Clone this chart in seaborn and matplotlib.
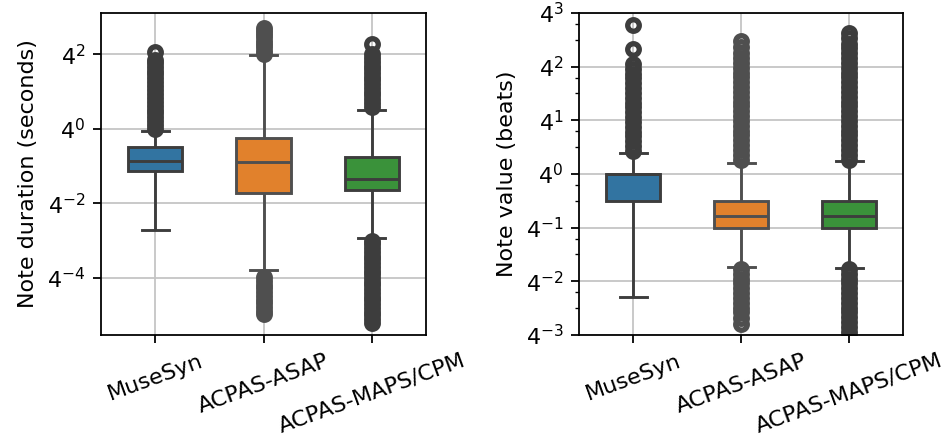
import numpy as np
import matplotlib
matplotlib.use("Agg")
import matplotlib.pyplot as plt
import seaborn as sns
from matplotlib.ticker import NullLocator

datasets = ["MuseSyn", "ACPAS-ASAP", "ACPAS-MAPS/CPM"]
box_colors = ["#3274a1", "#e1812c", "#3a923a"]
line_colors = ["#3d3d3d", "#4f4f4f", "#3d3d3d"]

# All values are exponents of 4 (both axes use a base-4 log scale).
# A "body" lists: lower whisker end, Q1, median, Q3, upper whisker end,
# and body_counts says how many notes take each of those values.
body_counts = [1, 300, 300, 300, 1]

# ---- note duration (seconds) ----
dur_musesyn_body = [-2.70, -1.12, -0.856, -0.48, -0.05]
dur_musesyn_out = [0.00, 0.10, 0.21, 0.31, 0.42, 0.52, 0.62, 0.73, 0.83, 0.94,
                   1.04, 1.15, 1.25, 1.36, 1.46, 1.56, 1.67, 1.77, 1.84, 2.07]

dur_asap_body = [-3.79, -1.73, -0.90, -0.24, 1.98]
dur_asap_out = [2.01, 2.10, 2.19, 2.28, 2.37, 2.46, 2.55, 2.64, 2.72,
                -3.98, -4.08, -4.18, -4.28, -4.38, -4.48, -4.58, -4.68, -4.78,
                -4.88, -4.98]

dur_maps_body = [-2.92, -1.65, -1.347, -0.756, 0.52]
dur_maps_out = [0.60, 0.70, 0.80, 0.90, 1.00, 1.10, 1.20, 1.30, 1.40, 1.50,
                1.60, 1.70, 1.80, 1.90, 2.00, 2.29,
                -3.00, -3.10, -3.20, -3.30, -3.40, -3.50, -3.60, -3.70, -3.80,
                -3.90, -4.00, -4.10, -4.20, -4.30, -4.40, -4.50, -4.60, -4.70,
                -4.80, -4.90, -5.00, -5.10, -5.22]

# ---- note value (beats) ----
val_musesyn_body = [-2.29, -0.50, 0.00, 0.00, 0.40]
val_musesyn_out = [0.43, 0.52, 0.61, 0.70, 0.79, 0.88, 0.97, 1.06, 1.15, 1.24,
                   1.33, 1.42, 1.51, 1.60, 1.69, 1.78, 1.87, 1.96, 2.05, 2.32,
                   2.78]

val_asap_body = [-1.73, -1.00, -0.792, -0.50, 0.2075]
val_asap_out = [0.27, 0.36, 0.45, 0.54, 0.63, 0.72, 0.81, 0.90, 0.99, 1.08,
                1.17, 1.26, 1.35, 1.44, 1.53, 1.62, 1.71, 1.80, 1.89, 1.98,
                2.07, 2.16, 2.25, 2.36, 2.47,
                -1.77, -1.86, -1.95, -2.04, -2.13, -2.22, -2.31, -2.40, -2.49,
                -2.58, -2.69, -2.80]

val_maps_body = [-1.745, -1.00, -0.792, -0.50, 0.243]
val_maps_out = [0.27, 0.36, 0.45, 0.54, 0.63, 0.72, 0.81, 0.90, 0.99, 1.08,
                1.17, 1.26, 1.35, 1.44, 1.53, 1.62, 1.71, 1.80, 1.89, 1.98,
                2.07, 2.16, 2.25, 2.34, 2.43, 2.53, 2.63,
                -1.77, -1.86, -1.95, -2.04, -2.13, -2.22, -2.31, -2.40, -2.49,
                -2.58, -2.67, -2.76, -2.85, -2.94, -3.03, -3.12, -3.21, -3.30]

dur_ticks = [-4, -2, 0, 2]
val_ticks = [-3, -2, -1, 0, 1, 2, 3]
dur_limits = (-5.53, 3.11)
val_limits = (-3.0, 3.0)


def notes(body, outliers):
    exps = np.concatenate([np.repeat(body, body_counts), outliers])
    return 4.0 ** exps


def draw_box(ax, i, values):
    sns.boxplot(x=[datasets[i]] * len(values), y=values, order=datasets,
                color=box_colors[i], saturation=1, linecolor=line_colors[i],
                width=0.5, linewidth=1.3, fliersize=5.2,
                flierprops=dict(marker="o", markersize=5.2,
                                markeredgewidth=2.4),
                ax=ax)


fig = plt.figure(figsize=(945 / 160, 442 / 160), dpi=160)
ax_dur = fig.add_axes([0.1069, 0.2421, 0.3439, 0.7285])
ax_val = fig.add_axes([0.6127, 0.2421, 0.3429, 0.7285])

panels = [
    (ax_dur, [(dur_musesyn_body, dur_musesyn_out),
              (dur_asap_body, dur_asap_out),
              (dur_maps_body, dur_maps_out)],
     dur_ticks, dur_limits, "Note duration (seconds)"),
    (ax_val, [(val_musesyn_body, val_musesyn_out),
              (val_asap_body, val_asap_out),
              (val_maps_body, val_maps_out)],
     val_ticks, val_limits, "Note value (beats)"),
]

for ax, sets, ticks, limits, label in panels:
    # MuseSyn statistics are taken on the raw values, the ACPAS sets on log values
    draw_box(ax, 0, notes(*sets[0]))
    ax.set_yscale("log", base=4)
    draw_box(ax, 1, notes(*sets[1]))
    draw_box(ax, 2, notes(*sets[2]))

    ax.set_ylim(4.0 ** limits[0], 4.0 ** limits[1])
    ax.set_yticks(4.0 ** np.array(ticks, dtype=float))
    ax.set_xlim(-0.5, 2.5)
    ax.set_xlabel("")
    ax.set_ylabel(label)
    ax.grid(True, which="major", color="#c4c4c4")
    ax.set_axisbelow(True)
    ax.tick_params(axis="x", labelrotation=20)

ax_dur.yaxis.set_minor_locator(NullLocator())

fig.savefig("out.png", dpi=160)
